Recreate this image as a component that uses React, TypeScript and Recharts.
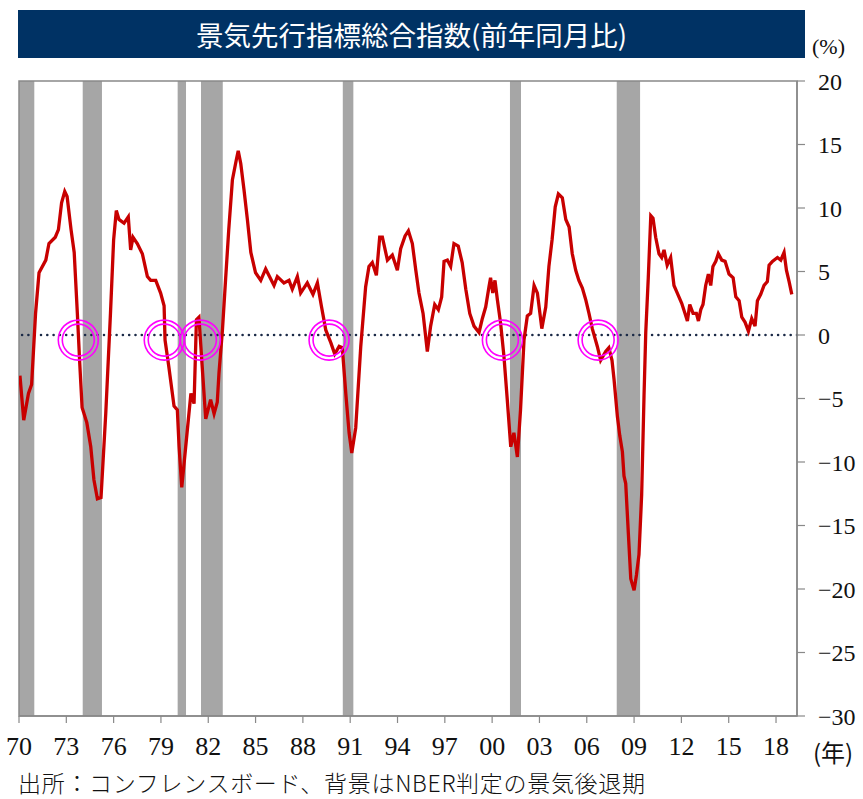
import {
  LineChart,
  Line,
  XAxis,
  YAxis,
  ReferenceArea,
  ReferenceLine,
  ReferenceDot,
} from "recharts";

// 景気先行指標総合指数 (前年同月比, %)
const leadingIndex: [number, number][] = [
  [1970.06, -3.2], [1970.3, -6.7], [1970.6, -4.6], [1970.8, -3.9], [1971.05, 1.7],
  [1971.27, 4.9], [1971.7, 5.9], [1971.9, 7.2], [1972.3, 7.7], [1972.5, 8.3],
  [1972.7, 10.4], [1972.9, 11.3], [1973.05, 10.9], [1973.3, 8.3], [1973.5, 6.5],
  [1973.7, 1.7], [1973.85, -2.2], [1974.0, -5.7], [1974.3, -6.9], [1974.55, -8.8],
  [1974.75, -11.4], [1974.97, -12.9], [1975.2, -12.8], [1975.5, -6.2], [1975.8, 1.7],
  [1976.0, 7.5], [1976.17, 9.8], [1976.34, 9.1], [1976.66, 8.8], [1976.93, 9.3],
  [1977.08, 6.7], [1977.23, 7.7], [1977.5, 7.2], [1977.82, 6.4], [1978.14, 4.6],
  [1978.35, 4.3], [1978.67, 4.3], [1978.98, 3.3], [1979.2, 2.3], [1979.26, -0.4],
  [1979.5, -2.5], [1979.83, -5.6], [1980.04, -5.9], [1980.15, -8.8], [1980.32, -12.0],
  [1980.57, -8.8], [1980.9, -4.6], [1981.1, -5.4], [1981.25, 1.2], [1981.41, 1.4],
  [1981.6, -2.2], [1981.84, -6.6], [1982.15, -5.1], [1982.37, -6.2], [1982.57, -5.3],
  [1982.68, -3.0], [1982.9, 0.4], [1983.1, 4.4], [1983.3, 8.3], [1983.53, 12.2],
  [1983.78, 13.8], [1983.9, 14.5], [1984.06, 13.5], [1984.27, 11.4], [1984.48, 9.1],
  [1984.7, 6.5], [1985.0, 4.9], [1985.33, 4.3], [1985.64, 5.2], [1986.17, 3.9],
  [1986.38, 4.6], [1986.8, 4.1], [1987.12, 4.3], [1987.33, 3.6], [1987.65, 4.6],
  [1987.86, 3.3], [1988.28, 4.1], [1988.64, 3.2], [1988.92, 4.1], [1989.17, 2.3],
  [1989.45, 0.4], [1989.77, -0.6], [1990.02, -1.5], [1990.3, -0.9], [1990.5, -1.0],
  [1990.72, -4.6], [1990.93, -7.7], [1991.1, -9.3], [1991.35, -7.3], [1991.67, -0.9],
  [1991.98, 3.8], [1992.19, 5.4], [1992.4, 5.7], [1992.66, 4.7], [1992.87, 7.7],
  [1993.04, 7.7], [1993.36, 5.9], [1993.67, 6.3], [1993.99, 5.1], [1994.2, 6.8],
  [1994.48, 7.8], [1994.69, 8.2], [1994.94, 7.2], [1995.16, 5.1], [1995.36, 3.3],
  [1995.62, 1.7], [1995.89, -1.3], [1996.1, 0.7], [1996.36, 2.4], [1996.59, 2.0],
  [1996.8, 3.0], [1996.95, 5.8], [1997.16, 5.9], [1997.37, 5.4], [1997.58, 7.2],
  [1997.85, 7.0], [1998.1, 5.7], [1998.33, 3.6], [1998.58, 1.7], [1998.85, 0.7],
  [1999.17, 0.2], [1999.38, 1.3], [1999.59, 2.2], [1999.8, 3.8], [1999.9, 4.5],
  [2000.04, 3.3], [2000.18, 4.3], [2000.33, 2.8], [2000.54, 0.9], [2000.75, -1.7],
  [2000.96, -5.1], [2001.18, -8.8], [2001.38, -7.7], [2001.6, -9.6], [2001.8, -5.9],
  [2002.02, -0.4], [2002.23, 1.5], [2002.44, 1.7], [2002.66, 3.9], [2002.87, 3.3],
  [2003.15, 0.5], [2003.4, 2.2], [2003.6, 5.4], [2003.8, 7.5], [2004.0, 10.1],
  [2004.2, 11.1], [2004.45, 10.8], [2004.67, 9.1], [2004.88, 8.5], [2005.08, 6.4],
  [2005.3, 5.1], [2005.5, 4.3], [2005.72, 3.7], [2005.93, 2.8], [2006.14, 1.7],
  [2006.35, 0.5], [2006.67, -0.9], [2006.88, -2.0], [2007.2, -1.3], [2007.4, -1.0],
  [2007.6, -2.0], [2007.73, -3.5], [2007.94, -6.4], [2008.09, -7.9], [2008.26, -9.2],
  [2008.36, -11.1], [2008.47, -11.7], [2008.64, -15.7], [2008.79, -19.2], [2009.0, -20.1],
  [2009.15, -18.9], [2009.31, -17.3], [2009.48, -12.6], [2009.63, -4.8], [2009.74, 0.2],
  [2009.9, 4.5], [2010.06, 9.4], [2010.2, 9.2], [2010.37, 7.7], [2010.58, 6.4],
  [2010.75, 6.1], [2010.9, 6.7], [2011.1, 5.5], [2011.32, 6.1], [2011.53, 3.9],
  [2011.74, 3.3], [2012.02, 2.5], [2012.23, 1.7], [2012.38, 1.1], [2012.53, 2.4],
  [2012.74, 1.7], [2012.95, 1.7], [2013.08, 1.1], [2013.23, 2.0], [2013.37, 2.4],
  [2013.54, 3.9], [2013.71, 4.8], [2013.86, 3.9], [2014.0, 5.4], [2014.18, 5.8],
  [2014.34, 6.4], [2014.56, 5.9], [2014.77, 5.8], [2015.02, 4.8], [2015.28, 4.5],
  [2015.45, 3.0], [2015.66, 2.7], [2015.83, 1.4], [2016.04, 1.0], [2016.25, 0.3],
  [2016.46, 1.3], [2016.67, 0.7], [2016.82, 2.7], [2017.03, 3.2], [2017.24, 3.9],
  [2017.45, 4.2], [2017.56, 5.5], [2017.77, 5.8], [2018.09, 6.1], [2018.3, 5.9],
  [2018.51, 6.5], [2018.66, 5.1], [2018.83, 4.2], [2019.0, 3.2],
];

// NBER recessions (shaded)
const recessions: [number, number][] = [
  [1970.0, 1970.97],
  [1974.04, 1975.26],
  [1980.06, 1980.59],
  [1981.54, 1982.92],
  [1990.53, 1991.2],
  [2001.13, 2001.83],
  [2007.9, 2009.38],
];

// zero crossings circled in magenta
const crossings = [1973.76, 1979.21, 1981.5, 1989.66, 2000.65, 2006.72];

const xTicks = [1970, 1973, 1976, 1979, 1982, 1985, 1988, 1991, 1994, 1997, 2000, 2003, 2006, 2009, 2012, 2015, 2018];
const yTicks = [20, 15, 10, 5, 0, -5, -10, -15, -20, -25, -30];

const data = leadingIndex.map(([t, v]) => ({ t, v }));

const GRAY = "#898989";

function XTick(props: any) {
  const { x, y, payload } = props;
  const label = String(payload.value % 100).padStart(2, "0");
  return (
    <text
      x={x}
      y={y}
      dy={22}
      textAnchor="middle"
      fontFamily="Liberation Serif"
      fontSize={26}
      fill="#111"
    >
      {label}
    </text>
  );
}

export default function App() {
  return (
    <div
      style={{
        position: "absolute",
        left: 0,
        top: 0,
        width: 863,
        height: 799,
        background: "#fff",
        overflow: "hidden",
      }}
    >
      <div
        style={{
          position: "absolute",
          left: 18,
          top: 10,
          width: 787,
          height: 48,
          background: "#003264",
          color: "#fff",
          fontFamily: "Noto Sans CJK JP",
          fontSize: 27.5,
          lineHeight: "48px",
          textAlign: "center",
          whiteSpace: "nowrap",
        }}
      >
        景気先行指標総合指数(前年同月比)
      </div>
      <div
        style={{
          position: "absolute",
          left: 812,
          top: 36,
          lineHeight: "22px",
          fontFamily: "Liberation Serif",
          fontSize: 22,
          color: "#111",
        }}
      >
        (%)
      </div>

      <LineChart
        width={863}
        height={799}
        data={data}
        margin={{ top: 81, right: 0, bottom: 30, left: 19 }}
        style={{ position: "absolute", left: 0, top: 0 }}
      >
        <XAxis
          dataKey="t"
          type="number"
          domain={[1970, 2019.33]}
          ticks={xTicks}
          interval={0}
          allowDataOverflow
          height={53}
          tickSize={7}
          tickMargin={10}
          tick={<XTick />}
          axisLine={{ stroke: GRAY, strokeWidth: 1.5 }}
          tickLine={{ stroke: GRAY, strokeWidth: 1.2 }}
        />
        <YAxis
          orientation="right"
          type="number"
          domain={[-30, 20]}
          ticks={yTicks}
          interval={0}
          allowDataOverflow
          width={66}
          tickSize={8}
          tickMargin={13}
          tickFormatter={(v: number) => (v < 0 ? `\u2212${-v}` : String(v))}
          tick={{ fontFamily: "Liberation Serif", fontSize: 24, fill: "#111" }}
          axisLine={{ stroke: GRAY, strokeWidth: 1.5 }}
          tickLine={{ stroke: GRAY, strokeWidth: 1.2 }}
        />
        {recessions.map(([a, b]) => (
          <ReferenceArea
            key={a}
            x1={a}
            x2={b}
            y1={-30}
            y2={20}
            fill="#a6a6a6"
            fillOpacity={1}
            stroke="none"
          />
        ))}
        <ReferenceArea
          x1={1970}
          x2={2019.33}
          y1={-30}
          y2={20}
          fill="none"
          stroke={GRAY}
          strokeWidth={1.5}
        />
        <ReferenceLine
          y={0}
          stroke="#1b2a47"
          strokeWidth={2.6}
          strokeDasharray="0 6.3"
          strokeLinecap="round"
        />
        <Line
          type="linear"
          dataKey="v"
          stroke="#c80000"
          strokeWidth={3.3}
          dot={false}
          isAnimationActive={false}
        />
        {crossings.map((t) => (
          <ReferenceDot
            key={`o${t}`}
            x={t}
            y={-0.4}
            r={20}
            fill="none"
            stroke="#ff00ff"
            strokeWidth={1.6}
          />
        ))}
        {crossings.map((t) => (
          <ReferenceDot
            key={`i${t}`}
            x={t}
            y={-0.4}
            r={16}
            fill="none"
            stroke="#ff00ff"
            strokeWidth={1.6}
          />
        ))}
      </LineChart>

      <div
        style={{
          position: "absolute",
          left: 813,
          top: 740,
          lineHeight: "24px",
          fontFamily: "Noto Sans CJK JP",
          fontSize: 24,
          color: "#111",
        }}
      >
        (年)
      </div>
      <div
        style={{
          position: "absolute",
          left: 18,
          top: 770,
          lineHeight: "24px",
          fontFamily: "Noto Sans CJK JP",
          fontWeight: 300,
          fontSize: 23,
          letterSpacing: 0.7,
          color: "#111",
          whiteSpace: "nowrap",
        }}
      >
        出所：コンフレンスボード、背景はNBER判定の景気後退期
      </div>
    </div>
  );
}
